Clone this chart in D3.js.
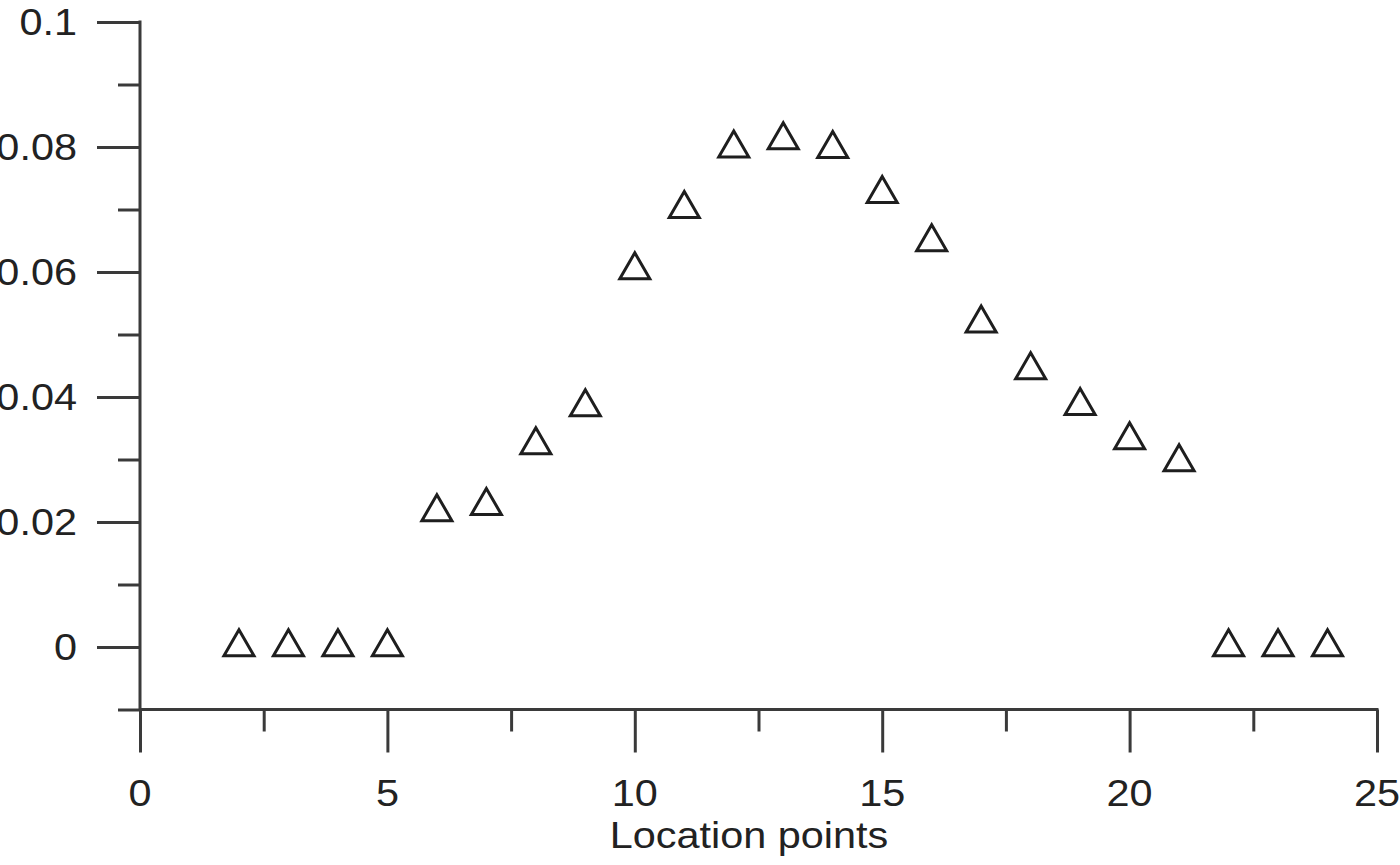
<!DOCTYPE html>
<html>
<head>
<meta charset="utf-8">
<script src="https://cdn.jsdelivr.net/npm/d3@7"></script>
<style>
  html, body { margin: 0; padding: 0; background: #fff; }
  svg { display: block; }
  text { font-family: "Liberation Sans", Arial, sans-serif; fill: #222; }
</style>
</head>
<body>
<svg id="chart" width="1400" height="865"></svg>
<script>
// ---- data ----
const locations = [2, 3, 4, 5, 6, 7, 8, 9, 10, 11, 12, 13, 14, 15, 16, 17, 18, 19, 20, 21, 22, 23, 24];
const values = [0, 0, 0, 0, 0.0216, 0.0226, 0.0323, 0.0384, 0.0603, 0.0701, 0.0798, 0.0811, 0.0797,
                0.0725, 0.0648, 0.0518, 0.0443, 0.0386, 0.0331, 0.0296, 0, 0, 0];
const yMajorTicks = [0, 0.02, 0.04, 0.06, 0.08, 0.1];
const yMinorTicks = [-0.01, 0.01, 0.03, 0.05, 0.07, 0.09];
const yTickLabels = ["0", "0.02", "0.04", "0.06", "0.08", "0.1"];
const xMajorTicks = [0, 5, 10, 15, 20, 25];
const xMinorTicks = [2.5, 7.5, 12.5, 17.5, 22.5];
const xTickLabels = ["0", "5", "10", "15", "20", "25"];
const xTitle = "Location points";

// ---- drawing ----
const svg = d3.select("#chart");
const axisColor = "#3a3a3a";
const x = d3.scaleLinear().domain([0, 25]).range([140, 1377]);
const y = d3.scaleLinear().domain([-0.01, 0.1]).range([709.5, 22]);
const xOrigin = x(0), yOrigin = y(-0.01);

function styleAxis(g) {
  g.select(".domain").remove();
  g.selectAll(".tick line").attr("stroke", axisColor).attr("stroke-width", 3);
  g.selectAll(".tick text").remove();
}

// y axis ticks
svg.append("g").attr("transform", `translate(${xOrigin},0)`)
  .call(d3.axisLeft(y).tickValues(yMajorTicks).tickSize(43).tickSizeOuter(0))
  .call(styleAxis);
svg.append("g").attr("transform", `translate(${xOrigin},0)`)
  .call(d3.axisLeft(y).tickValues(yMinorTicks).tickSize(22).tickSizeOuter(0))
  .call(styleAxis);

// x axis ticks
svg.append("g").attr("transform", `translate(0,${yOrigin})`)
  .call(d3.axisBottom(x).tickValues(xMajorTicks).tickSize(43).tickSizeOuter(0))
  .call(styleAxis);
svg.append("g").attr("transform", `translate(0,${yOrigin})`)
  .call(d3.axisBottom(x).tickValues(xMinorTicks).tickSize(22).tickSizeOuter(0))
  .call(styleAxis);

// axis lines
svg.append("line")
  .attr("x1", xOrigin).attr("x2", xOrigin)
  .attr("y1", y(0.1) - 1.5).attr("y2", yOrigin)
  .attr("stroke", axisColor).attr("stroke-width", 3);
svg.append("line")
  .attr("x1", xOrigin).attr("x2", x(25) + 1.5)
  .attr("y1", yOrigin).attr("y2", yOrigin)
  .attr("stroke", axisColor).attr("stroke-width", 3);

// tick labels (slightly wide glyphs, as in the reference)
const fs = 37, sx = 1.12;
svg.append("g").selectAll("g").data(yMajorTicks).join("g")
  .attr("transform", d => `translate(77,${y(d) + 13}) scale(${sx},1)`)
  .append("text")
  .attr("text-anchor", "end")
  .attr("font-size", fs)
  .text((d, i) => yTickLabels[i]);

svg.append("g").selectAll("g").data(xMajorTicks).join("g")
  .attr("transform", d => `translate(${x(d)},806) scale(${sx},1)`)
  .append("text")
  .attr("text-anchor", "middle")
  .attr("font-size", fs)
  .text((d, i) => xTickLabels[i]);

svg.append("g")
  .attr("transform", `translate(749,848) scale(${sx},1)`)
  .append("text")
  .attr("text-anchor", "middle")
  .attr("font-size", fs)
  .text(xTitle);

// markers
const tri = d3.symbol().type(d3.symbolTriangle).size(390);
svg.append("g").selectAll("path")
  .data(locations.map((l, i) => ({ l, v: values[i] })))
  .join("path")
  .attr("d", tri)
  .attr("transform", d => `translate(${x(d.l)},${y(d.v)})`)
  .attr("fill", "none")
  .attr("stroke", "#1e1e1e")
  .attr("stroke-width", 3)
  .attr("stroke-linejoin", "miter");
</script>
</body>
</html>
